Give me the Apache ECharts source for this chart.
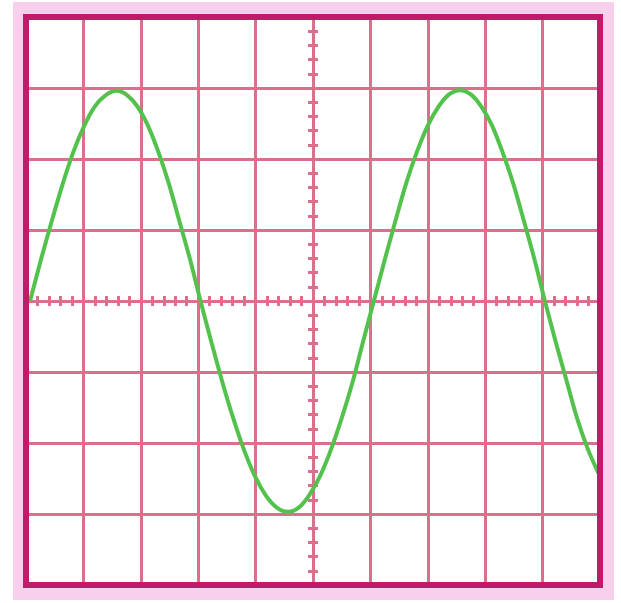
<!DOCTYPE html>
<html>
<head>
<meta charset="utf-8">
<script src="https://cdn.jsdelivr.net/npm/echarts@6/dist/echarts.min.js"></script>
<style>
html,body{margin:0;padding:0;background:#fff;}
#frame{position:absolute;left:13px;top:2px;width:601px;height:598px;background:#f8d0ee;}
#chart{position:absolute;left:0;top:0;width:621px;height:603px;}
</style>
</head>
<body>
<div id="frame"></div>
<div id="chart"></div>
<script>
// horizontal divisions (centred on 0) and vertical divisions
const xRange = [-5, 5];
const yRange = [-4, 4];
const waveX = [-4.93,-4.74,-4.55,-4.36,-4.18,-3.99,-3.80,-3.61,-3.42,
  -3.24,-3.06,-2.87,-2.69,-2.51,-2.33,-2.14,-1.96,
  -1.77,-1.58,-1.39,-1.20,-1.01,-0.82,-0.63,-0.44,
  -0.25,-0.07,0.12,0.31,0.50,0.69,0.87,1.06,
  1.25,1.44,1.62,1.81,2.00,2.19,2.37,2.56,
  2.75,2.93,3.12,3.30,3.49,3.67,3.86,4.04,
  4.23,4.42,4.60,4.79,4.97];
const waveY = [0,0.58,1.13,1.65,2.09,2.46,2.74,2.90,2.96,
  2.90,2.74,2.46,2.09,1.65,1.13,0.58,0,
  -0.58,-1.14,-1.65,-2.10,-2.47,-2.74,-2.91,-2.97,
  -2.91,-2.74,-2.47,-2.10,-1.65,-1.14,-0.58,0,
  0.58,1.14,1.65,2.10,2.47,2.74,2.91,2.97,
  2.91,2.74,2.47,2.10,1.65,1.14,0.58,0,
  -0.58,-1.13,-1.65,-2.09,-2.42];

const gridColor = '#dc6f8c';
const borderColor = '#c01a6b';
const traceColor = '#52c24c';
const rect = {left: 26, top: 17, width: 574, height: 568};

function axis(kind, gridIndex, inside, withGrid) {
  const r = kind === 'x' ? xRange : yRange;
  return {
    type: 'value', gridIndex: gridIndex, min: r[0], max: r[1], interval: 1,
    axisLabel: {show: false},
    axisLine: {show: true, onZero: true, lineStyle: {color: gridColor, width: 3}},
    axisTick: {show: true, inside: inside, length: 5, lineStyle: {color: gridColor, width: 3}},
    minorTick: {show: true, splitNumber: 5, length: 5, lineStyle: {color: gridColor, width: 3}},
    splitLine: {show: withGrid, showMinLine: false, showMaxLine: false, lineStyle: {color: gridColor, width: 3}},
    minorSplitLine: {show: false}
  };
}

const data = waveX.map((x, i) => [x, waveY[i]]);

const chart = echarts.init(document.getElementById('chart'));
chart.setOption({
  animation: false,
  grid: [
    Object.assign({show: true, backgroundColor: '#ffffff', borderWidth: 0, z: 0}, rect),
    Object.assign({show: true, backgroundColor: 'transparent', borderColor: borderColor, borderWidth: 6, z: 5}, rect)
  ],
  xAxis: [axis('x', 0, false, true), axis('x', 1, true, false)],
  yAxis: [axis('y', 0, false, true), axis('y', 1, true, false)],
  series: [{
    type: 'line', xAxisIndex: 0, yAxisIndex: 0, data: data,
    showSymbol: false, smooth: 0.3,
    lineStyle: {color: traceColor, width: 4}, z: 3
  }]
});
</script>
</body>
</html>
